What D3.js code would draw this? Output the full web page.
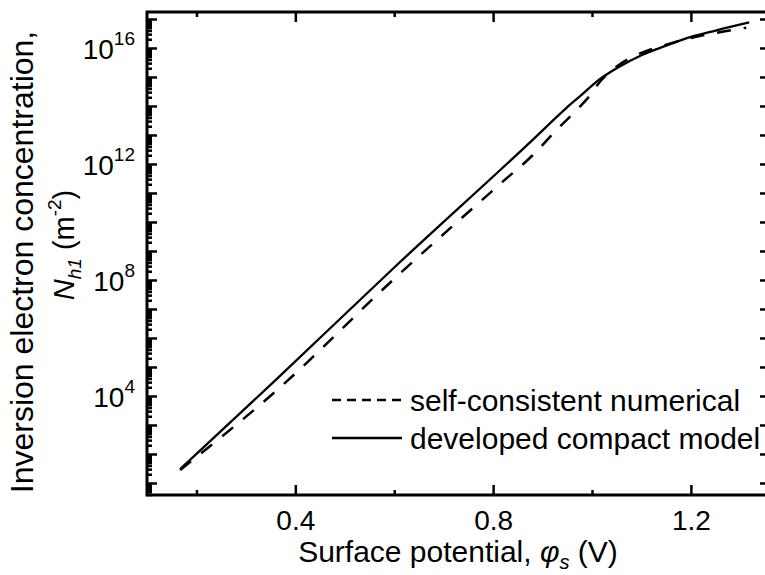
<!DOCTYPE html>
<html>
<head>
<meta charset="utf-8">
<script src="https://cdn.jsdelivr.net/npm/d3@7"></script>
<style>
  body { margin: 0; background: #fff; overflow: hidden; }
  svg { display: block; font-family: "Liberation Sans", Arial, sans-serif; }
</style>
</head>
<body>
<div id="chart"></div>
<script>
// data: surface potential (V) and N_h1 (m^-2)
var phiNumerical = [0.167, 0.363, 0.6, 0.82, 0.88, 0.93, 0.975, 1.0, 1.012, 1.05, 1.1, 1.15, 1.2, 1.25, 1.312];
var nNumerical   = [2.8e1, 1.6e4, 1.1e8, 2.5e11, 2.0e12, 1.6e13, 9.3e13, 2.8e14, 5.6e14, 2.3e15, 6.8e15, 1.3e16, 2.2e16, 3.3e16, 5.0e16];

var phiCompact = [0.167, 0.36, 0.6, 0.88, 0.948, 0.98, 1.01, 1.05, 1.1, 1.15, 1.2, 1.25, 1.318];
var nCompact   = [3.0e1, 3.5e4, 2.7e8, 6.8e12, 8.5e13, 2.5e14, 7.1e14, 2.0e15, 5.6e15, 1.2e16, 2.4e16, 4.0e16, 7.6e16];

var xTicks = [0.2, 0.4, 0.6, 0.8, 1.0, 1.2];
var xLabels = [0.4, 0.8, 1.2];
var yLabelExp = [4, 8, 12, 16];
var legendNames = ["self-consistent numerical", "developed compact model"];

// plot box (right edge sits just outside the window, like the scan)
var margin = { top: 12, right: -5, bottom: 80, left: 147 },
    fullW = 765, fullH = 575,
    width = fullW - margin.left - margin.right,
    height = fullH - margin.top - margin.bottom;

var svg = d3.select("#chart")
    .append("svg")
    .attr("width", fullW)
    .attr("height", fullH)
    .append("g")
    .attr("transform", "translate(" + margin.left + "," + margin.top + ")");

var x = d3.scaleLinear()
    .domain([0.1, 1.36])
    .range([0, width]);

var y = d3.scaleLog()
    .domain([3.85, 1.74e17])
    .range([height, 0]);

// decade and minor ticks on the log axis
var decades = [], minors = [];
for (var e = 0; e <= 17; e++) {
    var v = Math.pow(10, e);
    if (v >= y.domain()[0] && v <= y.domain()[1]) decades.push(v);
    for (var k = 2; k <= 9; k++) {
        var m = k * v;
        if (m >= y.domain()[0] && m <= y.domain()[1]) minors.push(m);
    }
}
var xMinor = xTicks.filter(function (d) { return xLabels.indexOf(d) < 0; });

function styleAxis(g) {
    g.select(".domain").remove();
    g.selectAll("line").attr("stroke", "#000").attr("stroke-width", 2.5);
}

// bottom / top ticks
svg.append("g").attr("transform", "translate(0," + height + ")")
    .call(d3.axisBottom(x).tickValues(xLabels).tickSize(-10).tickPadding(15)
        .tickFormat(d3.format(".1f")))
    .call(styleAxis)
    .selectAll("text").style("font-size", "28px").attr("fill", "#000");
svg.append("g").attr("transform", "translate(0," + height + ")")
    .call(d3.axisBottom(x).tickValues(xMinor).tickSize(-5).tickFormat(""))
    .call(styleAxis);
svg.append("g")
    .call(d3.axisTop(x).tickValues(xLabels).tickSize(-10).tickFormat(""))
    .call(styleAxis);
svg.append("g")
    .call(d3.axisTop(x).tickValues(xMinor).tickSize(-5).tickFormat(""))
    .call(styleAxis);

// left / right ticks
svg.append("g")
    .call(d3.axisLeft(y).tickValues(decades).tickSize(-10).tickFormat(""))
    .call(styleAxis);
svg.append("g")
    .call(d3.axisLeft(y).tickValues(minors).tickSize(-5).tickFormat(""))
    .call(styleAxis);
svg.append("g").attr("transform", "translate(" + width + ",0)")
    .call(d3.axisRight(y).tickValues(decades).tickSize(-10).tickFormat(""))
    .call(styleAxis);
svg.append("g").attr("transform", "translate(" + width + ",0)")
    .call(d3.axisRight(y).tickValues(minors).tickSize(-5).tickFormat(""))
    .call(styleAxis);

// 10^n labels
var yl = svg.selectAll(".ylab")
    .data(yLabelExp)
    .enter()
    .append("text")
    .attr("class", "ylab")
    .attr("x", -12)
    .attr("y", function (d) { return y(Math.pow(10, d)) + 11; })
    .attr("text-anchor", "end")
    .style("font-size", "28px");
yl.append("tspan").text("10");
yl.append("tspan").attr("dy", -14).style("font-size", "19px")
    .text(function (d) { return d; });

// frame
svg.append("rect")
    .attr("width", width).attr("height", height)
    .attr("fill", "none").attr("stroke", "#000").attr("stroke-width", 3);

// curves
var line = d3.line()
    .x(function (d) { return x(d[0]); })
    .y(function (d) { return y(d[1]); })
    .curve(d3.curveMonotoneX);

svg.append("path")
    .datum(d3.zip(phiNumerical, nNumerical))
    .attr("d", line)
    .attr("fill", "none").attr("stroke", "#000")
    .attr("stroke-width", 2.5)
    .attr("stroke-dasharray", "14,13");

svg.append("path")
    .datum(d3.zip(phiCompact, nCompact))
    .attr("d", line)
    .attr("fill", "none").attr("stroke", "#000")
    .attr("stroke-width", 2.3);

// legend
var lg = svg.append("g").attr("transform", "translate(" + (332 - margin.left) + "," + (400 - margin.top) + ")");
lg.selectAll("line")
    .data(legendNames)
    .enter()
    .append("line")
    .attr("x1", 0).attr("x2", 70)
    .attr("y1", function (d, i) { return i * 38; })
    .attr("y2", function (d, i) { return i * 38; })
    .attr("stroke", "#000").attr("stroke-width", 2.5)
    .attr("stroke-dasharray", function (d, i) { return i == 0 ? "9,6" : null; });
lg.selectAll("text")
    .data(legendNames)
    .enter()
    .append("text")
    .attr("x", 78)
    .attr("y", function (d, i) { return i * 38 + 11; })
    .style("font-size", "30px")
    .text(function (d) { return d; });

// axis titles
var xt = svg.append("text")
    .attr("x", 458 - margin.left)
    .attr("y", 562 - margin.top)
    .attr("text-anchor", "middle")
    .style("font-size", "30px");
xt.append("tspan").text("Surface potential, ");
xt.append("tspan").style("font-style", "italic").text("\u03C6");
xt.append("tspan").style("font-style", "italic").style("font-size", "20px").attr("dy", 7).text("s");
xt.append("tspan").attr("dy", -7).text(" (V)");

svg.append("text")
    .attr("transform", "translate(" + (33 - margin.left) + "," + (262 - margin.top) + ") rotate(-90)")
    .attr("text-anchor", "middle")
    .style("font-size", "32px")
    .text("Inversion electron concentration,");

var yt = svg.append("text")
    .attr("transform", "translate(" + (74 - margin.left) + "," + (245 - margin.top) + ") rotate(-90)")
    .attr("text-anchor", "middle")
    .style("font-size", "29px");
yt.append("tspan").style("font-style", "italic").text("N");
yt.append("tspan").style("font-style", "italic").style("font-size", "19px").attr("dy", 7).text("h1");
yt.append("tspan").attr("dy", -7).text(" (m");
yt.append("tspan").style("font-size", "19px").attr("dy", -13).text("-2");
yt.append("tspan").attr("dy", 13).text(")");
</script>
</body>
</html>
